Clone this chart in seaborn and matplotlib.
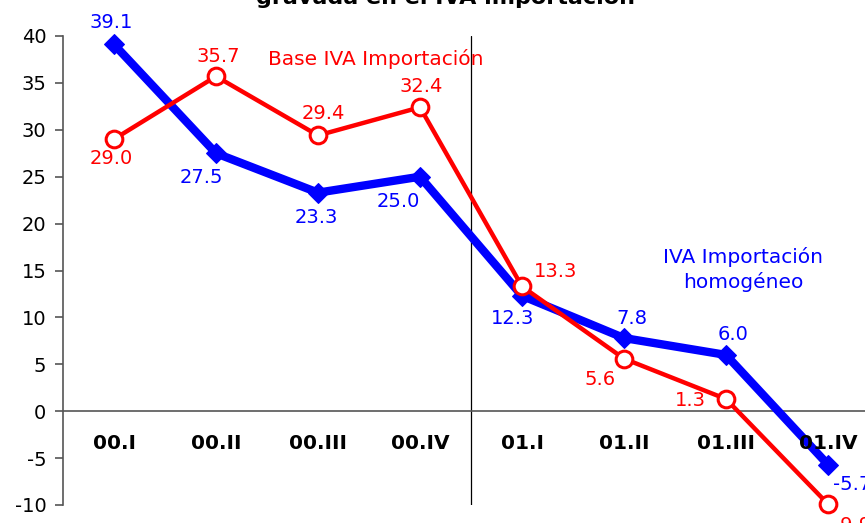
import numpy as np
import pandas as pd
import matplotlib
matplotlib.use("Agg")
import matplotlib.pyplot as plt
import seaborn as sns

# data
quarters = ["00.I", "00.II", "00.III", "00.IV", "01.I", "01.II", "01.III", "01.IV"]
iva_homogeneo = [39.1, 27.5, 23.3, 25.0, 12.3, 7.8, 6.0, -5.7]
base_iva = [29.0, 35.7, 29.4, 32.4, 13.3, 5.6, 1.3, -9.9]

# label offsets (pixels) for each point
blue_offsets = [(-3, 22), (-15, -24), (-2, -25), (-22, -25), (-9, -23), (8, 20), (7, 20), (24, -20)]
red_offsets = [(-3, -19), (2, 20), (5, 22), (1, 21), (34, 15), (-24, -21), (-36, -1), (24, -21)]

df = pd.DataFrame({"trimestre": quarters, "homogeneo": iva_homogeneo, "base": base_iva})
df["pos"] = np.arange(len(quarters))

sns.set_style("white")
plt.rcParams["font.family"] = ["DejaVu Sans"]
plt.rcParams["axes.unicode_minus"] = False

fig = plt.figure(figsize=(8.65, 5.23), dpi=100)
ax = fig.add_axes([63 / 865, 18 / 523, 816 / 865, 469 / 523])

sns.lineplot(data=df, x="pos", y="homogeneo", ax=ax, color="#0000ff", linewidth=6,
             marker="D", markersize=10, markeredgecolor="#0000ff", sort=False,
             clip_on=False, zorder=3)
sns.lineplot(data=df, x="pos", y="base", ax=ax, color="#ff0000", linewidth=3.2,
             marker="o", markersize=12, markerfacecolor="white",
             markeredgecolor="#ff0000", markeredgewidth=2.2, sort=False,
             clip_on=False, zorder=4)

for i in range(len(quarters)):
    ax.annotate(f"{iva_homogeneo[i]:.1f}", (i, iva_homogeneo[i]), xytext=blue_offsets[i],
                textcoords="offset pixels", ha="center", va="center",
                color="#0000ff", fontsize=14, annotation_clip=False)
    ax.annotate(f"{base_iva[i]:.1f}", (i, base_iva[i]), xytext=red_offsets[i],
                textcoords="offset pixels", ha="center", va="center",
                color="#ff0000", fontsize=14, annotation_clip=False)

# series names
ax.text(2.57, 37.6, "Base IVA Importación", color="#ff0000", fontsize=14.5,
        ha="center", va="center")
ax.text(6.17, 15.1, "IVA Importación\nhomogéneo", color="#0000ff", fontsize=14.5,
        ha="center", va="center", linespacing=1.35)

# separator between years and zero line
ax.plot([3.5, 3.5], [-10, 40], color="black", linewidth=0.9, zorder=1)
ax.axhline(0, color="#555555", linewidth=1.2, zorder=1)

ax.set_xlim(-0.5, 7.5)
ax.set_ylim(-10, 40)
ax.set_yticks(np.arange(-10, 41, 5))
ax.set_xticks([])
for i, q in enumerate(quarters):
    ax.text(i, -3.4, q, ha="center", va="center", fontsize=14.5, fontweight="bold",
            color="black")

for side in ["top", "right", "bottom"]:
    ax.spines[side].set_visible(False)
ax.spines["left"].set_color("#555555")
ax.spines["left"].set_linewidth(1.2)
ax.tick_params(axis="y", direction="out", length=6, width=1.2, color="#555555",
               labelsize=14, labelcolor="black", pad=6, left=True)
ax.set_xlabel("")
ax.set_ylabel("")

fig.text(0.515, 1 - 4 / 523, "gravada en el IVA importación", ha="center",
         va="baseline", fontsize=16, fontweight="bold", color="black")

fig.savefig("out.png", dpi=100)
